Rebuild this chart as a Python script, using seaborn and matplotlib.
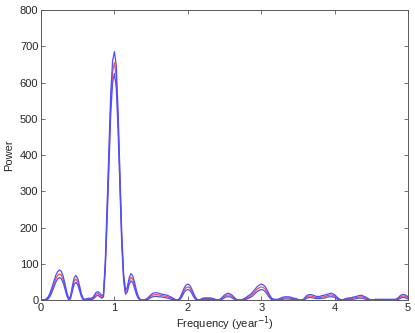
import matplotlib
matplotlib.use('Agg')
import matplotlib.pyplot as plt
import numpy as np
import pandas as pd
import seaborn as sns

# frequency grid (year^-1), 0.025 step
freq = np.linspace(0, 5, 201)

# periodogram power
power = [
    0, 0, 0.5, 2, 7, 16, 29, 44, 58, 68,
    72, 69, 57, 38, 17, 3, 6, 30, 52, 58,
    50, 32, 13, 2, 1, 2, 3, 3, 4, 9,
    16, 18, 14, 8, 12, 95, 240, 395, 545, 630,
    655, 615, 490, 325, 165, 62, 22, 28, 52, 63,
    57, 40, 20, 7, 1, 0, 0, 1, 3, 7,
    11, 14, 15, 15, 14, 13, 12, 11, 10, 9,
    7, 5, 3, 1, 0, 1, 6, 16, 27, 34,
    36, 34, 26, 15, 6, 1, 0, 1, 3, 4,
    4, 4, 4, 3, 2, 1, 0, 0, 2, 6,
    10, 13, 14, 13, 10, 6, 2, 0, 0, 0,
    1, 3, 5, 8, 11, 15, 20, 26, 31, 34,
    36, 35, 31, 24, 15, 7, 2, 1, 1, 1,
    2, 4, 5, 6, 6, 6, 5, 4, 3, 2,
    1, 0, 0, 1, 5, 9, 11, 11, 10, 8,
    7, 7, 7, 8, 9, 10, 12, 13, 14, 13,
    11, 7, 3, 1, 0, 1, 2, 3, 4, 4,
    5, 6, 7, 8, 9, 9, 7, 5, 3, 1,
    0, 0, 1, 1, 1, 1, 1, 1, 1, 1,
    1, 1, 1, 1, 2, 5, 9, 11, 11, 9,
    6,
]

# upper confidence curve
power_upper = [
    0, 0, 1, 4, 10, 21, 36, 52, 68, 78,
    83, 79, 66, 46, 22, 5, 9, 37, 61, 68,
    59, 39, 17, 4, 2, 4, 5, 5, 6, 13,
    21, 23, 19, 12, 16, 107, 259, 420, 574, 661,
    685, 646, 517, 347, 181, 72, 28, 35, 61, 73,
    66, 48, 26, 10, 2, 0, 0, 2, 5, 10,
    15, 19, 20, 20, 19, 17, 16, 15, 14, 13,
    10, 8, 5, 2, 0, 2, 9, 21, 33, 41,
    44, 41, 32, 20, 9, 2, 0, 2, 5, 6,
    6, 6, 6, 5, 4, 2, 0, 0, 4, 9,
    14, 17, 19, 17, 14, 9, 4, 0, 0, 0,
    2, 5, 8, 12, 15, 20, 26, 32, 38, 41,
    44, 42, 38, 30, 20, 10, 4, 2, 2, 2,
    4, 6, 8, 9, 9, 9, 8, 6, 5, 4,
    2, 0, 0, 2, 8, 13, 15, 15, 14, 12,
    10, 10, 10, 12, 13, 14, 16, 17, 19, 17,
    15, 10, 5, 2, 0, 2, 4, 5, 6, 6,
    8, 9, 10, 12, 13, 13, 10, 8, 5, 2,
    0, 0, 2, 2, 2, 2, 2, 2, 2, 2,
    2, 2, 2, 2, 4, 8, 13, 15, 15, 13,
    9,
]

# lower confidence curve
power_lower = [
    0, 0, 0, 0, 4, 11, 23, 36, 49, 58,
    62, 59, 48, 31, 12, 1, 3, 23, 43, 49,
    42, 25, 9, 0, 0, 0, 1, 1, 2, 5,
    11, 13, 9, 5, 8, 83, 221, 371, 517, 600,
    625, 585, 463, 303, 150, 53, 16, 22, 43, 53,
    48, 32, 15, 4, 0, 0, 0, 0, 1, 4,
    7, 9, 10, 10, 9, 9, 8, 7, 6, 5,
    4, 2, 1, 0, 0, 0, 3, 11, 21, 27,
    29, 27, 20, 10, 3, 0, 0, 0, 1, 2,
    2, 2, 2, 1, 0, 0, 0, 0, 0, 3,
    6, 9, 9, 9, 6, 3, 0, 0, 0, 0,
    0, 1, 2, 5, 7, 10, 15, 20, 24, 27,
    29, 28, 24, 18, 10, 4, 0, 0, 0, 0,
    0, 2, 2, 3, 3, 3, 2, 2, 1, 0,
    0, 0, 0, 0, 2, 5, 7, 7, 6, 5,
    4, 4, 4, 5, 5, 6, 8, 9, 9, 9,
    7, 4, 1, 0, 0, 0, 0, 1, 2, 2,
    2, 3, 4, 5, 5, 5, 4, 2, 1, 0,
    0, 0, 0, 0, 0, 0, 0, 0, 0, 0,
    0, 0, 0, 0, 0, 2, 5, 7, 7, 5,
    3,
]

sns.set_style('ticks')
plt.rcParams['font.family'] = ['Liberation Sans', 'DejaVu Sans']
plt.rcParams['font.size'] = 8

fig, ax = plt.subplots(figsize=(4.15, 3.33), dpi=100)
fig.subplots_adjust(left=0.099, right=0.983, bottom=0.099, top=0.970)

df = pd.DataFrame({'freq': freq, 'power': power,
                   'upper': power_upper, 'lower': power_lower})

# red estimate first, the blue bounds go on top of it
sns.lineplot(ax=ax, data=df, x='freq', y='power', color='#ff4a4a', lw=0.9)
sns.lineplot(ax=ax, data=df, x='freq', y='upper', color='#4f4fff', lw=0.9)
sns.lineplot(ax=ax, data=df, x='freq', y='lower', color='#4f4fff', lw=0.9)

ax.set_xlim(0, 5)
ax.set_ylim(0, 800)
ax.set_xticks(range(0, 6))
ax.set_yticks(range(0, 801, 100))
ax.set_xlabel('Frequency (year$^{-1}$)', labelpad=1)
ax.set_ylabel('Power', labelpad=4)

ax.tick_params(direction='in', top=True, right=True, length=3,
               width=0.6, color='0.35', labelsize=8, pad=2)
for side in ax.spines.values():
    side.set_visible(True)
    side.set_color('0.35')
    side.set_linewidth(0.7)

fig.savefig('out.png', dpi=100)
